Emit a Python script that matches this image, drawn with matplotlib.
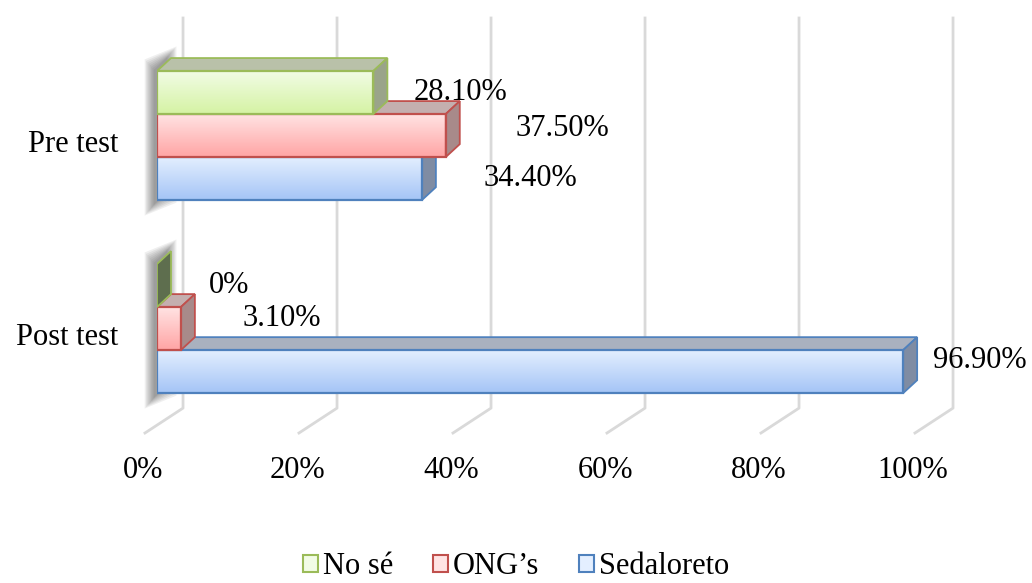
import numpy as np
import matplotlib.pyplot as plt
from matplotlib.patches import Polygon, Rectangle, Patch
from matplotlib.colors import to_rgb

# --- data -------------------------------------------------------
categories = ['Post test', 'Pre test']
series = ['No sé', 'ONG’s', 'Sedaloreto']
no_se = [0.0, 28.1]
ongs = [3.1, 37.5]
sedaloreto = [96.9, 34.4]
ticks = [0, 20, 40, 60, 80, 100]

# --- style ------------------------------------------------------
plt.rcParams['font.family'] = ['Liberation Serif', 'DejaVu Serif']
FS = 22

styles = {
    'No sé':      dict(top='#F2FCE6', bot='#D5F3A4', edge='#9BBB59', lid='#B9C1A9', side='#9AA48A', zero='#5E6E4E'),
    'ONG’s':      dict(top='#FFE4E4', bot='#FFA5A5', edge='#C0504D', lid='#C4AFAF', side='#A88A8A', zero='#8A5E5E'),
    'Sedaloreto': dict(top='#E4EFFF', bot='#A5C5F6', edge='#4F81BD', lid='#A9B1BF', side='#7F8CA3', zero='#55627A'),
}
values = {'No sé': no_se, 'ONG’s': ongs, 'Sedaloreto': sedaloreto}
slot = {'No sé': 1, 'ONG’s': 0, 'Sedaloreto': -1}
# label nudges in pixels from the bar's front end (post, pre)
nudge = {
    'No sé':      [(72, 0), (87, 0)],
    'ONG’s':      [(101, 10), (117, 7)],
    'Sedaloreto': [(77, 11), (108, 0)],
}

BAR_H = 0.223
DX, DY = 1.82, 0.067          # bar depth
BACK_DX, BACK_Y = 3.38, -0.412  # back wall
FRONT_DX, FRONT_Y = -1.56, -0.541  # floor front edge

fig = plt.figure(figsize=(10.32, 5.83), dpi=100)
ax = fig.add_axes([157 / 1032, 150 / 583, 770 / 1032, 415 / 583])
ax.set_xlim(0, 100)
ax.set_ylim(FRONT_Y, 1.609)
ax.axis('off')

# gridlines on back wall + floor
for t in ticks:
    ax.plot([t + BACK_DX, t + BACK_DX, t + FRONT_DX], [1.609, BACK_Y, FRONT_Y],
            color='#D9D9D9', lw=2, clip_on=False, zorder=1)
    ax.text(t - 1.8, -0.733, f'{t}%', ha='center', va='center', fontsize=FS)

ypos = np.arange(len(categories))
for i, c in enumerate(ypos):
    # soft shadow behind the left end of the group
    ybot = c - 1.5 * BAR_H
    ytop = c + 1.5 * BAR_H
    for s in np.linspace(1.0, 0.1, 8):
        ex, ey = 1.3 * s, 0.06 * s
        ax.add_patch(Polygon([(-ex - 0.3, ybot - ey - 0.02), (DX + ex - 0.6, ybot + DY - ey - 0.02),
                              (DX + ex - 0.6, ytop + DY + ey), (-ex - 0.3, ytop + ey)],
                             closed=True, fc='#3A3A3A', ec='none', alpha=0.08,
                             zorder=2, clip_on=False))

    ax.text(-5.06, c - 0.046, categories[i], ha='right', va='center', fontsize=FS)

    z = 3
    for name in ['Sedaloreto', 'ONG’s', 'No sé']:
        st = styles[name]
        v = values[name][i]
        y0 = c + slot[name] * BAR_H - BAR_H / 2
        y1 = y0 + BAR_H
        # front face with vertical gradient
        if v > 0:
            grad = np.linspace(0, 1, 50)[:, None, None]
            rgb = (1 - grad) * np.array(to_rgb(st['top'])) + grad * np.array(to_rgb(st['bot']))
            ax.imshow(rgb, extent=[0, v, y0, y1], aspect='auto', origin='upper',
                      interpolation='bilinear', zorder=z)
            ax.add_patch(Rectangle((0, y0), v, BAR_H, fill=False, ec=st['edge'], lw=1.6, zorder=z + 0.3))
            ax.add_patch(Polygon([(0, y1), (v, y1), (v + DX, y1 + DY), (DX, y1 + DY)],
                                 closed=True, fc=st['lid'], ec=st['edge'], lw=1.3, zorder=z + 0.1))
        side_c = st['side'] if v > 0 else st['zero']
        ax.add_patch(Polygon([(v, y0), (v + DX, y0 + DY), (v + DX, y1 + DY), (v, y1)],
                             closed=True, fc=side_c, ec=st['edge'], lw=1.3, zorder=z + 0.2))
        lab = '0%' if v == 0 else f'{v:.2f}%'
        dx, dy = nudge[name][i]
        ax.annotate(lab, xy=(v, (y0 + y1) / 2), xytext=(dx, dy), textcoords='offset pixels',
                    ha='center', va='center', fontsize=FS, annotation_clip=False, zorder=20)
        z += 1

ax.set_xlim(0, 100)
ax.set_ylim(FRONT_Y, 1.609)

handles = [Patch(facecolor=styles[n]['top'], edgecolor=styles[n]['edge'], lw=1.5) for n in series]
fig.legend(handles, series, loc='center', bbox_to_anchor=(0.5, 16 / 583), ncol=3,
           frameon=False, fontsize=FS, handlelength=0.5, handleheight=0.5,
           handletextpad=0.15, columnspacing=1.3, borderpad=0)

fig.savefig('out.png', dpi=100)
